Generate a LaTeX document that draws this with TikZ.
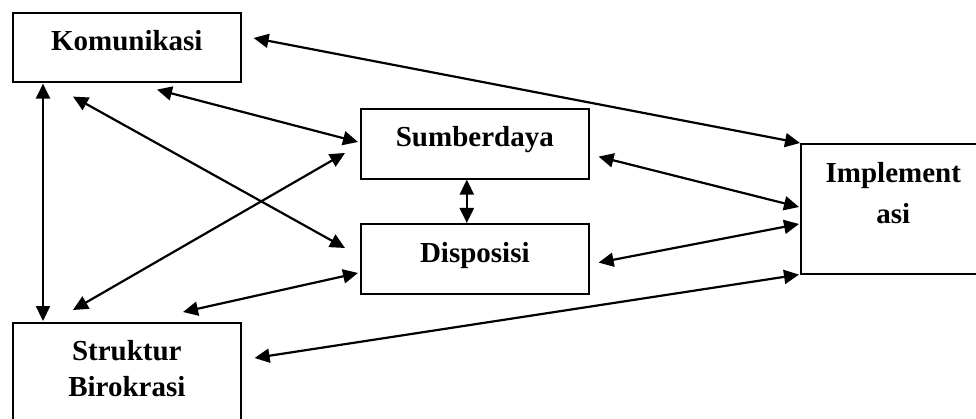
\documentclass[tikz,border=0pt]{standalone}
\usepackage{fontspec}
\setmainfont{Liberation Serif}
\usetikzlibrary{arrows.meta,calc}
\newcommand{\liftup}[2]{\raisebox{0pt}[\dimexpr\height-#1\relax][\dimexpr\depth+#1\relax]{#2}}
\begin{document}
\begin{tikzpicture}[x=1pt,y=-1pt,
  box/.style={draw,line width=1.6pt,rectangle,inner sep=0pt,anchor=north west,
    font=\fontsize{29}{35}\selectfont\bfseries},
  arr/.style={line width=2.2pt,{Triangle[length=15pt,width=14pt]}-{Triangle[length=15pt,width=14pt]}}]
\useasboundingbox (0,0) rectangle (976,419);
\clip (0,0) rectangle (976,419);
\node[box,minimum width=228pt,minimum height=69pt,text height=20pt,text depth=13pt] (kom) at (12,12) {Komunikasi};
\node[box,minimum width=228pt,minimum height=70pt,text height=20pt,text depth=14pt] (sum) at (360,108) {Sumberdaya};
\node[box,minimum width=228pt,minimum height=70pt,text height=20pt,text depth=12pt] (dis) at (360,223) {Disposisi};
\node[box,minimum width=185pt,minimum height=130pt] (imp) at (800,143)
  {\liftup{13pt}{\begin{tabular}{@{}c@{}}Implement\\[6pt]asi\end{tabular}}};
\node[box,minimum width=228pt,minimum height=118pt] (str) at (12,322)
  {\liftup{10pt}{\begin{tabular}{@{}c@{}}Struktur\\[1pt]Birokrasi\end{tabular}}};
% connectors
\draw[arr] ($(kom.north east)+(12,26)$) -- (imp.north west);
\draw[arr] ($(kom.south west)+(145,7)$) -- ($(sum.north west)+(-2,34)$);
\draw[arr] ($(kom.south west)+(61,14)$) -- ($(dis.north west)+(-15,25)$);
\draw[arr] ($(str.north west)+(61,-12)$) -- ($(sum.north west)+(-15,45)$);
\draw[arr] ($(str.north west)+(171,-10)$) -- ($(dis.north west)+(-2,50)$);
\draw[arr] ($(kom.south west)+(31,1)$) -- ($(str.north west)+(31,-1)$);
\draw[arr] ($(sum.south)+(-8,0)$) -- ($(dis.north)+(-8,0)$);
\draw[arr] ($(sum.south east)+(9,-23)$) -- ($(imp.north west)+(-1,64)$);
\draw[arr] ($(dis.south east)+(9,-32)$) -- ($(imp.north west)+(-1,81)$);
\draw[arr] ($(str.north east)+(13,36)$) -- ($(imp.south west)+(-1,0)$);
\end{tikzpicture}
\end{document}
